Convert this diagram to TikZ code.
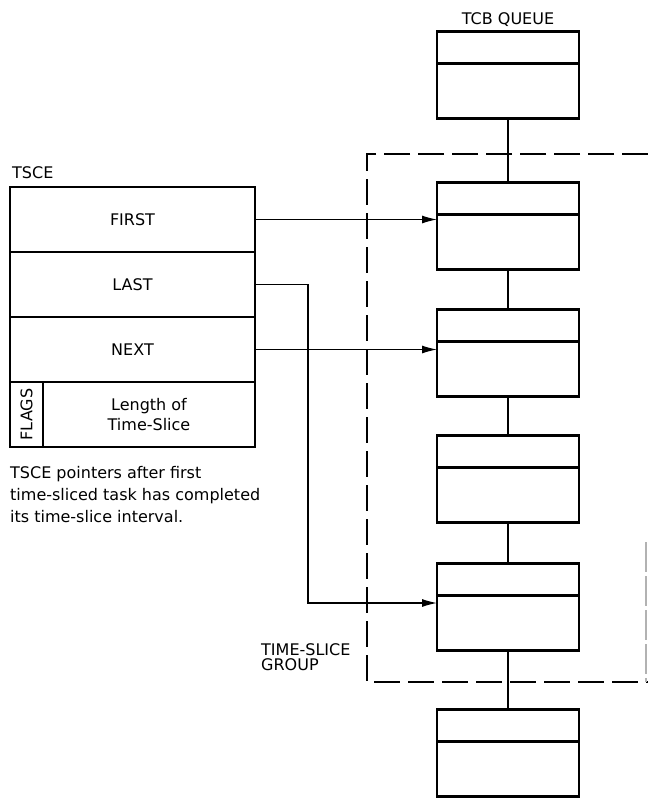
\documentclass[tikz,border=0pt]{standalone}
\usepackage{fontspec}
\setmainfont{DejaVu Sans}
\usetikzlibrary{calc,arrows.meta}
\begin{document}
\begin{tikzpicture}[x=1pt,y=-1pt,
  box/.style={draw,line width=2.4pt,minimum width=142pt,minimum height=87pt,inner sep=0pt,outer sep=0pt},
  row/.style={draw,line width=2.4pt,minimum width=245pt,minimum height=65pt,inner sep=0pt,outer sep=0pt,font=\fontsize{16}{20}\selectfont},
  link/.style={line width=1.2pt},
  ptr/.style={line width=1.2pt,-{Latex[length=15pt,width=8pt]}},
  grp/.style={line width=2.4pt,dash pattern=on 26pt off 8pt},
  lbl/.style={font=\fontsize{16}{20}\selectfont,inner sep=0pt}
]
\useasboundingbox (0,0) rectangle (648,798);

% TCB queue
\node[box] (q0) at (508,75) {};
\node[box] (q1) at (508,226) {};
\node[box] (q2) at (508,353) {};
\node[box] (q3) at (508,479) {};
\node[box] (q4) at (508,607) {};
\node[box] (q5) at (508,753) {};
\foreach \b in {q0,q1,q2,q3,q4,q5}
  \draw[line width=2.4pt] ($(\b.north west)+(0,32)$) -- ($(\b.north east)+(0,32)$);
\draw[link] (q0.south) -- (q1.north);
\draw[link] (q1.south) -- (q2.north);
\draw[link] (q2.south) -- (q3.north);
\draw[link] (q3.south) -- (q4.north);
\draw[link] (q4.south) -- (q5.north);
\node[lbl,anchor=base] (tcbl) at (508,24) {TCB QUEUE};

% TSCE
\node[lbl,anchor=base west] (tscel) at (12,178) {TSCE};
\node[row] (first) at (132.5,219.5) {FIRST};
\node[row] (last) at (132.5,284.5) {LAST};
\node[row] (next) at (132.5,349.5) {NEXT};
\node[row,minimum width=33pt] (flags) at (26.5,414.5) {};
\node[lbl,rotate=90] (flagst) at (flags) {FLAGS};
\node[row,minimum width=212pt,align=center] (len) at (149,414.5) {Length of\\Time-Slice};

\node[lbl,anchor=base west] (cap1) at (10,478) {TSCE pointers after first};
\node[lbl,anchor=base west] (cap2) at (10,500) {time-sliced task has completed};
\node[lbl,anchor=base west] (cap3) at (10,522) {its time-slice interval.};

% pointers
\draw[ptr] (first.east) -- (first.east -| q1.west);
\draw[ptr] (next.east) -- (next.east -| q2.west);
\coordinate (lturn) at (308,603);
\draw[ptr] (last.east) -| (lturn) -- (lturn -| q4.west);

% time-slice group
\draw[grp] (648,154) -- (367,154) -- (367,682) -- (648,682);
\draw[gray!60,line width=1.4pt,dash pattern=on 30pt off 4pt] (646,542) -- (646,682);
\node[lbl,anchor=base west] (tsg1) at (261,655) {TIME-SLICE};
\node[lbl,anchor=base west] (tsg2) at (261,670) {GROUP};
\end{tikzpicture}
\end{document}
